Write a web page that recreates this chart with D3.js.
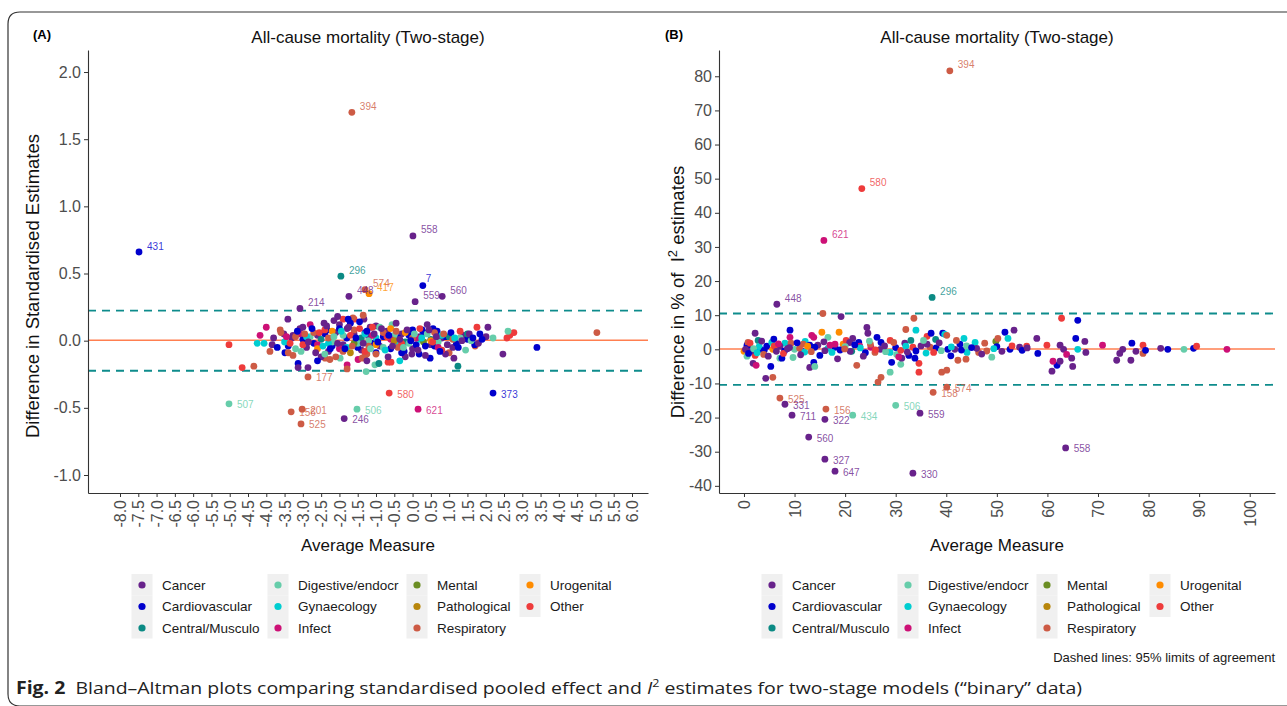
<!doctype html>
<html>
  <head>
    <meta charset="utf-8">
    <script src="https://d3js.org/d3.v7.min.js"></script>
    <style>
      body { margin: 0; background: #fff; }
    </style>
  </head>
  <body>
    <script>
    /***********************************************/
    /******************** Data *********************/
    /***********************************************/

    const categories = ["Cancer", "Cardiovascular", "Central/Musculo", "Digestive/endocr",
                        "Gynaecology", "Infect", "Mental", "Pathological",
                        "Respiratory", "Urogenital", "Other"];

    // panel A: [average measure, difference in standardised estimate, category index]
    const pointsA = [
      [-5.02,-0.03,10],[-4.66,-0.20,10],[-4.34,-0.19,8],[-4.0,0.10,5],[-4.17,0.04,5],
      [-4.25,-0.02,4],[-4.06,-0.02,4],[-3.9,-0.08,8],[-3.84,-0.03,0],[-3.41,0.16,0],
      [-3.62,0.08,8],[-3.52,0.05,0],[-3.27,0.04,0],[-3.08,0.09,0],[-3.49,-0.09,1],
      [-3.13,-0.17,1],[-3.13,-0.20,0],[-2.86,-0.20,0],[-3.27,-0.11,8],[-2.42,0.13,0],
      [-2.34,0.08,1],[-1.79,0.09,0],[-1.90,0.16,10],[-1.60,0.16,10],[-1.63,0.17,8],
      [-1.33,0.16,0],[-1.76,0.16,1],[-2.39,-0.13,8],[-2.26,-0.14,8],[-1.98,-0.13,3],
      [-1.79,-0.18,5],[-1.79,-0.21,8],[-1.49,-0.14,5],[-1.38,-0.13,8],[-1.30,-0.11,8],
      [-1.25,-0.10,8],[-1.27,-0.23,3],[-1.03,-0.18,3],[-0.92,-0.17,2],[-1.0,-0.09,1],
      [-0.67,-0.16,10],[-0.59,-0.16,10],[-0.67,-0.12,0],[2.47,-0.10,0],[3.40,-0.05,1],
      [5.04,0.06,8],[2.58,0.02,10],[2.66,0.04,10],[2.77,0.06,10],[2.61,0.07,3],
      [2.06,0.10,0],[2.01,0.03,0],[1.76,0.10,10],[1.84,0.05,1],[2.2,0.02,3],
      [1.71,-0.04,8],[1.24,-0.19,2],[1.13,-0.13,0],[1.0,-0.09,8],[0.48,-0.13,1],
      [0.18,-0.10,1],[-0.02,-0.10,0],[-0.23,-0.08,1],[-0.56,0.12,3],[0.26,0.08,1],
      [0.56,0.09,1],[0.67,0.07,1],[-1.16,0.10,0],
      [-3.3,0.02,0],[-2.9,-0.05,0],[-2.6,0.04,0],[-2.3,-0.08,0],[-2.1,0.06,0],
      [-1.9,-0.03,0],[-1.6,0.05,0],[-1.4,-0.07,0],[-1.2,0.03,0],[-0.9,-0.04,0],
      [-0.7,0.07,0],[-0.5,-0.02,0],[-0.3,0.05,0],[0.0,-0.06,0],[0.2,0.03,0],
      [0.5,-0.03,0],[0.8,0.02,0],[1.1,-0.05,0],[1.4,0.04,0],[-2.5,-0.12,0],
      [-1.0,0.11,0],[0.4,0.12,0],[-3.0,0.10,0],[-2.0,0.12,0],[-0.2,-0.12,0],[0.9,-0.10,0],
      [-3.4,-0.04,1],[-3.0,0.01,1],[-2.7,-0.02,1],[-2.4,0.05,1],[-2.2,-0.04,1],
      [-1.8,0.02,1],[-1.5,-0.05,1],[-1.3,0.06,1],[-1.1,-0.02,1],[-0.8,0.03,1],
      [-0.6,-0.06,1],[-0.4,0.02,1],[-0.1,0.04,1],[0.1,-0.03,1],[0.3,0.06,1],
      [0.6,-0.04,1],[0.9,0.03,1],[1.2,-0.02,1],[1.5,0.01,1],[1.7,-0.03,1],
      [-2.0,0.09,1],[-1.7,0.13,1],[0.0,0.08,1],[-0.3,-0.09,1],
      [-2.5,0.01,2],[-1.4,0.02,2],[-0.2,-0.01,2],[1.0,0.03,2],[1.5,0.05,2],[0.5,0.01,2],
      [-3.2,-0.06,3],[-2.8,0.03,3],[-2.2,-0.01,3],[-1.9,0.04,3],[-1.5,-0.02,3],
      [-1.2,0.00,3],[-0.8,-0.05,3],[-0.5,0.04,3],[-0.1,-0.02,3],[0.4,0.05,3],
      [0.7,-0.01,3],[1.3,0.02,3],[-2.4,-0.10,3],[-0.9,0.10,3],[1.6,0.00,3],
      [-3.5,-0.01,4],[-2.9,0.03,4],[-2.3,-0.02,4],[-1.8,-0.05,4],[-1.0,0.02,4],
      [-0.4,-0.03,4],[0.2,0.01,4],[0.8,0.04,4],[-1.3,0.05,4],
      [-3.1,0.05,5],[-2.6,-0.03,5],[-2.0,-0.06,5],[-1.1,0.04,5],[-0.6,0.01,5],
      [0.1,0.02,5],[0.7,-0.05,5],[-2.8,0.12,5],
      [-1.6,-0.02,6],[0.3,-0.01,6],
      [-1.7,-0.09,7],[-0.5,0.00,7],
      [-3.6,0.06,8],[-3.2,0.03,8],[-2.7,0.06,8],[-2.3,0.02,8],[-1.9,-0.08,8],
      [-1.6,0.08,8],[-1.2,-0.04,8],[-0.8,0.06,8],[-0.4,-0.05,8],[0.0,0.02,8],
      [0.6,0.06,8],[1.1,0.01,8],[-3.4,-0.09,8],[-2.1,-0.12,8],[-1.0,-0.10,8],
      [-2.2,0.07,9],[-1.0,-0.03,9],[-0.2,0.06,9],[0.5,0.00,9],[-2.6,-0.06,9],[-0.6,0.09,9],
      [-3.0,-0.03,10],[-2.4,0.08,10],[-1.7,0.04,10],[-1.3,-0.08,10],[-0.7,0.03,10],
      [-0.3,-0.02,10],[0.2,0.09,10],[0.8,-0.07,10],[1.3,0.07,10],[-1.1,0.10,10],
      [-3.45,0.03,5],[-3.35,-0.02,10],[-3.15,0.07,1],[-3.05,-0.08,3],[-2.95,0.05,8],
      [-2.85,-0.01,0],[-2.75,0.09,1],[-2.65,-0.09,0],[-2.55,0.06,10],[-2.45,-0.04,4],
      [-2.35,0.11,0],[-2.25,-0.06,1],[-2.15,0.03,3],[-2.05,-0.02,0],[-1.95,0.07,4],
      [-1.85,-0.06,1],[-1.75,0.10,0],[-1.65,-0.04,8],[-1.55,0.02,1],[-1.45,0.09,10],
      [-1.35,-0.02,0],[-1.25,0.07,1],[-1.15,-0.06,3],[-1.05,0.05,0],[-0.95,-0.01,1],
      [-0.85,0.09,0],[-0.75,-0.07,4],[-0.65,0.04,1],[-0.55,-0.04,0],[-0.45,0.07,8],
      [-0.35,0.01,0],[-0.25,-0.05,3],[-0.15,0.08,0],[-0.05,0.00,1],[0.05,0.05,3],
      [0.15,-0.07,0],[0.25,0.02,4],[0.35,-0.04,1],[0.45,0.08,0],[0.55,-0.01,10],
      [0.65,0.03,0],[0.75,-0.08,1],[0.85,0.05,8],[0.95,-0.03,0],[1.05,0.06,1],
      [1.15,0.02,4],[1.25,-0.05,1],[1.35,0.00,0],[1.45,-0.07,3],[1.55,0.05,0],
      [1.65,0.02,1],[1.8,-0.02,0],[1.9,0.01,1],[-2.15,0.15,0],[-1.45,0.14,1],
      [-0.45,0.13,0],[-1.25,-0.15,0],[-2.6,-0.15,1],[-0.35,-0.15,4],[0.35,-0.11,0],
      [-3.7,-0.05,1],[-3.8,0.02,0],[-2.05,0.18,0],[-1.35,0.19,8]
    ];

    // panel A labelled studies: [average, difference, category, id]
    const labelledA = [
      [-1.66,1.70,8,"394"],[-7.48,0.66,1,"431"],[0.01,0.78,0,"558"],[-1.96,0.48,2,"296"],
      [-1.30,0.38,8,"574"],[-1.19,0.35,9,"417"],[-1.74,0.33,0,"448"],[0.28,0.41,1,"7"],
      [0.07,0.29,0,"559"],[0.81,0.33,0,"560"],[-3.08,0.24,0,"214"],[-2.86,-0.27,8,"177"],
      [-0.64,-0.39,10,"580"],[2.20,-0.39,1,"373"],[-5.02,-0.47,3,"507"],[-1.52,-0.51,3,"506"],
      [0.15,-0.51,5,"621"],[-3.02,-0.51,8,"201"],[-3.32,-0.53,8,"156"],[-3.05,-0.62,8,"525"],
      [-1.87,-0.58,0,"246"]
    ];

    // lower limit, mean difference, upper limit
    const limitsA = [-0.224, 0.003, 0.224];

    // panel B: [average measure, difference in % of I2, category index]
    const pointsB = [
      [0.6,1.2,1],[0.0,-0.6,9],[0.8,2.0,8],[0.6,-2.0,3],[2.2,-1.8,10],[2.2,4.7,0],
      [2.8,2.6,2],[1.8,-4.1,0],[2.4,-4.7,5],[3.2,0.0,1],[4.5,0.9,1],[4.3,-8.5,0],
      [5.3,-5.0,1],[5.5,2.0,4],[5.7,0.0,9],[5.7,-8.2,8],[7.1,-2.6,3],[7.5,-2.6,1],
      [8.1,1.8,4],[9.1,5.6,1],[9.1,3.5,5],[9.3,1.8,8],[7.1,0.9,0],[10.0,0.0,3],
      [11.5,-0.6,1],[12.1,2.3,4],[11.7,1.5,8],[13.0,-5.3,0],[13.8,-3.8,1],[14.0,-5.0,3],
      [13.4,4.1,5],[13.8,3.5,5],[13.0,1.2,1],[14.6,1.2,0],[16.6,3.5,3],[15.4,5.0,9],
      [16.6,0.3,4],[18.0,0.6,1],[18.0,1.5,5],[18.8,5.0,9],[19.6,1.5,9],[20.2,2.6,10],
      [21.5,3.2,0],[20.9,2.0,0],[22.7,2.0,1],[21.3,-0.6,2],[22.3,-4.7,8],[22.9,0.9,5],
      [24.3,6.4,0],[24.5,4.7,0],[26.3,3.5,1],[27.1,2.0,1],[26.5,-9.6,8],[27.1,-8.2,8],
      [25.9,-0.9,8],[25.1,0.6,5],[28.9,2.6,10],[29.2,-3.8,1],[28.9,-6.7,3],[28.9,-0.9,4],
      [31.0,-4.4,3],[31.2,-2.6,0],[31.8,1.8,0],[32.0,5.8,8],[32.6,-1.8,1],[33.4,0.6,10],
      [33.0,2.6,2],[34.0,5.6,4],[33.6,9.1,8],[34.6,-4.1,10],[34.6,-6.7,10],[36.2,3.8,10],
      [37.0,4.7,1],[37.9,2.9,2],[36.8,0.6,8],[39.3,4.7,1],[39.7,4.4,4],[40.1,4.1,8],
      [40.3,0.0,1],[36.2,1.5,0],[39.1,-6.7,8],[40.1,-6.1,8],[15.6,10.5,8],[19.2,9.6,0],
      [30.2,-1.5,3],[30.6,-2.2,5],
      [42.3,-3.2,8],[42.7,1.5,1],[41.7,0.0,0],[43.5,3.2,4],[44.1,-0.9,4],[45.7,2.0,4],
      [46.4,-0.9,8],[47.6,1.8,8],[49.0,-2.3,3],[49.8,2.3,6],[50.2,3.2,8],[51.6,5.0,1],
      [52.2,3.2,4],[53.4,5.6,0],[52.6,0.0,1],[54.5,0.6,0],[55.9,0.9,10],[57.9,3.2,0],
      [58.1,-1.2,1],[59.9,1.2,10],[60.9,-6.4,0],[61.9,-4.7,1],[61.1,-3.5,5],[62.5,-3.5,0],
      [62.5,1.2,0],[63.2,0.0,0],[63.8,-1.5,5],[65.0,-5.0,0],[64.8,-2.6,0],[65.6,3.2,1],
      [66.0,0.0,4],[67.4,2.3,0],[67.6,-0.9,0],[62.8,9.1,10],[66.0,8.5,1],[70.9,1.2,5],
      [73.7,-3.2,0],[74.3,-1.2,0],[74.9,0.0,0],[76.7,1.8,1],[76.5,-3.2,0],[77.5,-0.6,0],
      [78.9,1.2,10],[78.9,-1.2,8],[79.4,-0.3,1],[82.4,0.3,0],[83.8,0.0,1],[87.0,0.0,3],
      [88.9,0.3,1],[89.5,0.9,10],[95.5,0.0,5],[43.9,-2.9,8],
      [1.0,0.5,1],[1.5,-0.5,0],[3.0,0.8,4],[4.0,-0.3,1],[6.0,1.0,10],[8.0,-0.5,1],
      [9.0,0.5,0],[11.0,0.3,8],[12.0,-0.8,4],[14.0,0.6,1],[16.0,-0.4,0],[17.0,1.2,5],
      [19.0,-0.2,1],[20.0,0.8,3],[21.0,-0.6,0],[23.0,0.4,4],[24.0,-1.0,1],[25.0,1.5,8],
      [27.0,0.0,0],[28.0,-0.7,3],[30.0,0.5,1],[31.0,-0.3,10],[32.0,0.9,4],[34.0,-0.5,1],
      [35.0,1.0,0],[36.0,-1.1,4],[38.0,0.4,1],[39.0,-0.4,3],[41.0,0.7,4],[43.0,-0.2,1],
      [44.0,1.0,3],[46.0,0.3,0],[48.0,-0.5,8],[50.0,0.8,1],[51.0,-0.6,0],[53.0,1.0,10],
      [55.0,-0.3,1],[56.0,0.4,0],
      [0.3,0.0,0],[0.9,-1.2,1],[1.2,1.8,10],[1.9,0.2,3],[2.6,-1.0,4],[3.5,2.4,0],
      [3.9,-1.5,8],[4.8,-2.0,0],[5.9,3.0,1],[6.4,-0.6,0],[6.8,1.6,5],[7.8,-1.2,10],
      [8.6,0.2,0],[9.7,-2.4,3],[10.5,1.9,1],[11.2,-1.6,0],[12.6,0.9,9],[13.3,-0.7,8],
      [15.0,-1.8,1],[15.8,2.2,0],[17.4,-0.9,4],[18.5,-2.8,0],[19.9,0.1,8],[21.9,1.3,1],
      [23.6,-2.0,0],[24.8,2.4,3],[26.0,-0.2,10],[27.8,1.0,0],[29.6,2.0,8],[32.3,-0.8,0],
      [33.8,-2.6,1],[35.5,2.6,3],[37.5,-0.9,10],[38.6,1.9,0],[40.9,-1.9,1],[42.0,2.6,8],
      [45.0,0.5,1],[47.0,-1.4,0],[49.4,0.2,4]
    ];

    const labelledB = [
      [40.7,81.6,8,"394"],[23.3,47.1,10,"580"],[15.8,31.9,5,"621"],[6.5,13.2,0,"448"],
      [37.2,15.2,2,"296"],[7.1,-14.3,8,"525"],[8.1,-16.1,0,"331"],[9.5,-19.3,0,"711"],
      [16.2,-17.5,8,"156"],[16.0,-20.5,0,"322"],[21.5,-19.3,3,"434"],[12.8,-25.7,0,"560"],
      [16.0,-32.2,0,"327"],[18.0,-35.7,0,"647"],[30.0,-16.4,3,"506"],[34.8,-18.7,0,"559"],
      [33.4,-36.3,0,"330"],[37.4,-12.6,8,"158"],[40.1,-11.1,8,"574"],[63.6,-28.9,0,"558"]
    ];

    const limitsB = [-10.4, 0.1, 10.5];

    const xTicksA = [-8,-7.5,-7,-6.5,-6,-5.5,-5,-4.5,-4,-3.5,-3,-2.5,-2,-1.5,-1,-0.5,
                     0,0.5,1,1.5,2,2.5,3,3.5,4,4.5,5,5.5,6];
    const yTicksA = [-1,-0.5,0,0.5,1,1.5,2];
    const xTicksB = [0,10,20,30,40,50,60,70,80,90,100];
    const yTicksB = [-40,-30,-20,-10,0,10,20,30,40,50,60,70,80];

    /***********************************************/
    /****************** Styling ********************/
    /***********************************************/

    const font = "'Liberation Sans', Arial, sans-serif";
    const colours = ["#68228B", "#0000CD", "#0B8A84", "#66CDAA", "#00CED1", "#CD1076",
                     "#6B8E23", "#B8860B", "#CD5B45", "#FF8C00", "#EE3B3B"];
    const colour = d3.scaleOrdinal().domain(d3.range(categories.length)).range(colours);
    // R prints a plain hyphen for negative numbers
    const oneDecimal = d => d3.format(".1f")(d).replace("\u2212", "-");
    const integer    = d => d3.format("d")(d).replace("\u2212", "-");

    const width = 1287, height = 706;
    const plotTop = 50, plotBottom = 493;

    const svg = d3.select("body").append("svg")
                  .attr("width", width)
                  .attr("height", height)
                  .style("font-family", font);

    // rounded figure frame
    svg.append("path")
       .attr("d", "M1295,12 H20 Q8,12 8,24 V694 Q8,706 20,706 H1295")
       .attr("fill", "none")
       .attr("stroke", "#333")
       .attr("stroke-width", 1.2);

    /***********************************************/
    /****************** One panel ******************/
    /***********************************************/

    function drawPanel(p) {
      const x = d3.scaleLinear().domain(p.xDomain).range([p.left, p.right]);
      const y = d3.scaleLinear().domain(p.yDomain).range([plotBottom, plotTop]);
      const g = svg.append("g");

      g.append("text")
       .attr("x", p.tagX).attr("y", 39)
       .attr("font-size", 13).attr("font-weight", "bold")
       .text(p.tag);

      g.append("text")
       .attr("x", (p.left + p.right) / 2).attr("y", 43)
       .attr("text-anchor", "middle").attr("font-size", 17).attr("fill", "#111")
       .text("All-cause mortality (Two-stage)");

      // limits of agreement + mean difference
      g.selectAll(".loa").data([p.limits[0], p.limits[2]]).enter()
       .append("line")
        .attr("x1", p.left).attr("x2", p.right)
        .attr("y1", d => y(d)).attr("y2", d => y(d))
        .attr("stroke", "#0E8C8C").attr("stroke-width", 1.8)
        .attr("stroke-dasharray", "8,6");

      g.append("line")
       .attr("x1", p.left).attr("x2", p.right)
       .attr("y1", y(p.limits[1])).attr("y2", y(p.limits[1]))
       .attr("stroke", "#FF7F50").attr("stroke-width", 1.6);

      // points
      g.selectAll(".pt").data(p.points.concat(p.labelled)).enter()
       .append("circle")
        .attr("cx", d => x(d[0])).attr("cy", d => y(d[1]))
        .attr("r", 3.4)
        .attr("fill", d => colour(d[2]));

      // point labels
      g.selectAll(".lab").data(p.labelled).enter()
       .append("text")
        .attr("x", d => x(d[0]) + (p.nudge[d[3]] ? p.nudge[d[3]][0] : 8))
        .attr("y", d => y(d[1]) + (p.nudge[d[3]] ? p.nudge[d[3]][1] : (d[1] > p.limits[1] ? -6 : 1)))
        .attr("dy", "0.35em")
        .attr("font-size", 10)
        .attr("fill", d => colour(d[2]))
        .attr("fill-opacity", 0.8)
        .text(d => d[3]);

      // axes
      const xAxis = g.append("g")
        .attr("transform", "translate(0," + plotBottom + ")")
        .call(d3.axisBottom(x).tickValues(p.xTicks).tickFormat(p.format)
               .tickSize(4).tickSizeOuter(0));
      xAxis.selectAll("text")
        .attr("transform", "rotate(-90)")
        .attr("x", -7).attr("y", 0).attr("dy", "0.35em")
        .attr("text-anchor", "end");

      const yAxis = g.append("g")
        .attr("transform", "translate(" + p.left + ",0)")
        .call(d3.axisLeft(y).tickValues(p.yTicks).tickFormat(p.format)
               .tickSize(4).tickSizeOuter(0));

      [xAxis, yAxis].forEach(a => {
        a.attr("font-family", font);
        a.select(".domain").attr("stroke", "#333").attr("stroke-width", 1.1);
        a.selectAll(".tick line").attr("stroke", "#333");
        a.selectAll("text").attr("font-size", 16).attr("fill", "#4D4D4D");
      });

      g.append("text")
       .attr("x", (p.left + p.right) / 2).attr("y", 551)
       .attr("text-anchor", "middle").attr("font-size", 17).attr("fill", "#111")
       .text("Average Measure");

      const yt = g.append("text")
       .attr("transform", "translate(" + p.yTitleX + "," + p.yTitleY + ") rotate(-90)")
       .attr("text-anchor", "middle").attr("font-size", 18.5).attr("fill", "#111")
       .style("white-space", "pre");
      p.yTitle(yt);

      // legend
      const leg = g.append("g");
      const colX = [0, 136, 275, 388];
      categories.forEach((c, i) => {
        const col = Math.floor(i / 3), row = i % 3;
        const cx = p.legendX + colX[col], cy = 585 + row * 21.5;
        leg.append("rect")
           .attr("x", cx - 10.5).attr("y", cy - 11)
           .attr("width", 21).attr("height", 21.5)
           .attr("fill", "#F0F0F0");
        leg.append("circle")
           .attr("cx", cx).attr("cy", cy).attr("r", 3.6)
           .attr("fill", colour(i));
        leg.append("text")
           .attr("x", cx + 20).attr("y", cy).attr("dy", "0.35em")
           .attr("font-size", 13.5).attr("fill", "#1a1a1a")
           .text(c);
      });
    }

    drawPanel({
      tag: "(A)", tagX: 33,
      left: 88, right: 648,
      xDomain: [-8.875, 6.4375], yDomain: [-1.134, 2.164],
      xTicks: xTicksA, yTicks: yTicksA, format: oneDecimal,
      points: pointsA, labelled: labelledA, limits: limitsA,
      nudge: { "7": [3, -7] },
      yTitleX: 39, yTitleY: 286,
      yTitle: t => t.text("Difference in Standardised Estimates"),
      legendX: 142
    });

    drawPanel({
      tag: "(B)", tagX: 665,
      left: 719, right: 1275,
      xDomain: [-4.94, 105.0], yDomain: [-42.1, 87.7],
      xTicks: xTicksB, yTicks: yTicksB, format: integer,
      points: pointsB, labelled: labelledB, limits: limitsB,
      nudge: {},
      yTitleX: 684, yTitleY: 292,
      yTitle: t => {
        t.append("tspan").text("Difference in % of  I");
        t.append("tspan").attr("font-size", 13).attr("dy", -7).text("2");
        t.append("tspan").attr("dy", 7).text(" estimates");
      },
      legendX: 772
    });

    /***********************************************/
    /**************** Notes & caption **************/
    /***********************************************/

    svg.append("text")
       .attr("x", 1275).attr("y", 662)
       .attr("text-anchor", "end").attr("font-size", 13).attr("fill", "#1a1a1a")
       .text("Dashed lines: 95% limits of agreement");

    const cap = svg.append("text")
       .attr("x", 16).attr("y", 694)
       .attr("font-size", 17).attr("fill", "#222")
       .style("font-family", "'Open Sans', 'Noto Sans', sans-serif")
       .attr("textLength", 1066).attr("lengthAdjust", "spacingAndGlyphs")
       .style("white-space", "pre");
    cap.append("tspan").attr("font-weight", "bold").text("Fig. 2");
    cap.append("tspan").text("  Bland\u2013Altman plots comparing standardised pooled effect and ");
    cap.append("tspan").attr("font-style", "italic").text("I");
    cap.append("tspan").attr("font-size", 11).attr("dy", -7).text("2");
    cap.append("tspan").attr("dy", 7).text(" estimates for two-stage models (\u201cbinary\u201d data)");
    </script>
  </body>
</html>
